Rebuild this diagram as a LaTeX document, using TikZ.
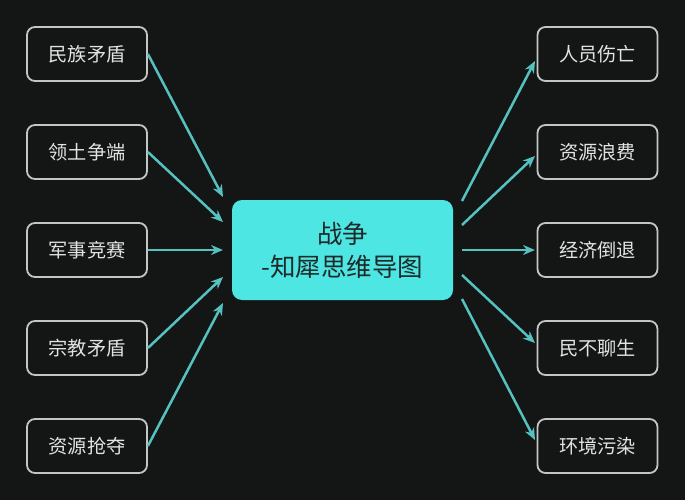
\documentclass[tikz,border=0pt]{standalone}
\usepackage{fontspec}
\setmainfont{Noto Sans CJK SC}
\usetikzlibrary{arrows.meta}
\definecolor{bg}{HTML}{141515}
\definecolor{teal}{HTML}{55C2C0}
\definecolor{cfill}{HTML}{4EE6E2}
\definecolor{ctext}{HTML}{1E2A2A}
\definecolor{bord}{HTML}{C4C6C6}
\definecolor{btext}{HTML}{E2E4E4}
\begin{document}
\begin{tikzpicture}[x=1pt,y=-1pt,
  leaf/.style={draw=bord, line width=1.8pt, rounded corners=8pt, minimum width=120pt, minimum height=54pt, text=btext, font=\fontsize{19.2}{23}\selectfont, inner sep=0pt},
  hub/.style={fill=cfill, rounded corners=10pt, minimum width=221pt, minimum height=100pt, text=ctext, font=\fontsize{25.5}{33}\selectfont, align=center, inner sep=0pt},
  conn/.style={draw=teal, line width=2.5pt, -{Stealth[length=12pt,width=10pt]}}]
\fill[bg] (0,0) rectangle (685,500);
\useasboundingbox (0,0) rectangle (685,500);
\node[hub] (c) at (342.5,250) {战争\\-知犀思维导图};
\node[leaf] (l1) at (87,54) {民族矛盾};
\node[leaf] (l2) at (87,152) {领土争端};
\node[leaf] (l3) at (87,250) {军事竞赛};
\node[leaf] (l4) at (87,348) {宗教矛盾};
\node[leaf] (l5) at (87,446) {资源抢夺};
\node[leaf] (r1) at (597.5,54) {人员伤亡};
\node[leaf] (r2) at (597.5,152) {资源浪费};
\node[leaf] (r3) at (597.5,250) {经济倒退};
\node[leaf] (r4) at (597.5,348) {民不聊生};
\node[leaf] (r5) at (597.5,446) {环境污染};
\coordinate (li1) at (223,197);
\coordinate (li2) at (223,222);
\coordinate (li3) at (223,250);
\coordinate (li4) at (223,277);
\coordinate (li5) at (223,303);
\coordinate (ro1) at (462,201);
\coordinate (ro2) at (462,225);
\coordinate (ro3) at (462,250);
\coordinate (ro4) at (462,275);
\coordinate (ro5) at (462,299);
\coordinate (re1) at (535,61);
\coordinate (re2) at (535,156);
\coordinate (re3) at (535,250);
\coordinate (re4) at (535,343);
\coordinate (re5) at (535,440);
\draw[conn] (l1.east) -- (li1);
\draw[conn] (l2.east) -- (li2);
\draw[conn] (l3.east) -- (li3);
\draw[conn] (l4.east) -- (li4);
\draw[conn] (l5.east) -- (li5);
\draw[conn] (ro1) -- (re1);
\draw[conn] (ro2) -- (re2);
\draw[conn] (ro3) -- (re3);
\draw[conn] (ro4) -- (re4);
\draw[conn] (ro5) -- (re5);
\end{tikzpicture}
\end{document}
